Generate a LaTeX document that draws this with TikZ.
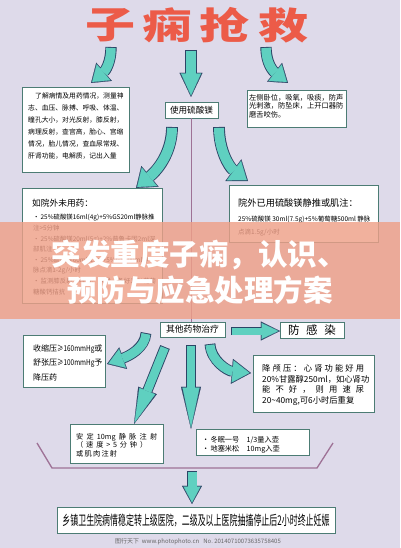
\documentclass[tikz,border=0pt]{standalone}
\usepackage{fontspec}
\setmainfont{Noto Sans CJK SC}
\usetikzlibrary{arrows.meta}
\definecolor{bg}{HTML}{DEDAEA}
\definecolor{teal1}{HTML}{5FD0C0}
\definecolor{arrline}{HTML}{2C4566}
\definecolor{boxc}{HTML}{4C7C74}
\definecolor{titlered}{HTML}{EC5B48}
\definecolor{mauve}{HTML}{9E7296}
\definecolor{band}{HTML}{EFA088}
\newcommand\fs[2]{\fontsize{#1pt}{#2pt}\selectfont}
\newcommand\ttl[1]{\scalebox{1}[0.74]{#1}}
\newcommand\cond[1]{\scalebox{0.8}[1]{#1}}
\makeatletter
\def\spr@a#1{\ifx#1\relax\unskip\else#1\hfill\expandafter\spr@a\fi}
\newcommand\spreadto[2]{\makebox[#1][l]{\spr@a#2\relax}}
\makeatother
\newcommand\tarr[4]{%
  \pgfmathsetmacro\tarrw{#1+1.8}\pgfmathsetmacro\tarrl{#2+2.2}\pgfmathsetmacro\tarrh{#3+3}%
  \draw[arrline, line width=\tarrw pt, -{Triangle[length=\tarrl pt, width=\tarrh pt, line width=0.2pt]}] #4;
  \draw[teal1, line width=#1pt, -{Triangle[length=#2pt, width=#3pt, line width=0.2pt]}, shorten >=1.5pt, shorten <=0.9pt] #4;}
\begin{document}
\begin{tikzpicture}[x=1pt,y=-1pt,
  box/.style={draw=boxc, fill=white, line width=0.8pt, inner sep=0pt, rectangle},
  txt/.style={inner sep=0pt, align=left, anchor=north west},
  title/.style={text=titlered, font=\fs{50}{50}\bfseries, inner sep=0pt},
  ovl/.style={text=white, font=\fs{29.5}{29.5}\bfseries, inner sep=0pt},
  link/.style={draw=mauve, line width=1.2pt}]
\fill[bg] (0,0) rectangle (400,548);
\useasboundingbox (0,0) rectangle (400,548);
% title
\node[title] (t1) at (110,25) {\ttl{子}};
\node[title] (t2) at (167,25) {\ttl{痫}};
\node[title] (t3) at (224,25) {\ttl{抢}};
\node[title] (t4) at (283,25) {\ttl{救}};
% arrow end points
\coordinate (a1s) at (111,47);  \coordinate (a1e) at (91,83);
\coordinate (a2s) at (191,50);  \coordinate (a2e) at (191,97);
\coordinate (a3s) at (266,47);  \coordinate (a3e) at (288,83);
\coordinate (a4s) at (172,127); \coordinate (a4e) at (136,188);
\coordinate (a5s) at (219,127); \coordinate (a5e) at (248,181);
\coordinate (a6s) at (146,333); \coordinate (a6e) at (107,364);
\coordinate (a7s) at (165,347); \coordinate (a7e) at (134,424);
\coordinate (a8s) at (191,345); \coordinate (a8e) at (191,429);
\coordinate (a9s) at (210,344); \coordinate (a9e) at (251,373);
\coordinate (a10s) at (231,331); \coordinate (a10e) at (280,331);
\coordinate (a11s) at (192,471); \coordinate (a11e) at (192,504);
% boxes
\node[box, minimum width=107pt, minimum height=85pt] (b1) at (75.5,129.5) {};
\node[txt, font=\fs{6.8}{11.9}] (b1t) at (28,93) {\hspace*{7pt}了解病情及用药情况，测量神\\志、血压、脉搏、呼吸、体温、\\瞳孔大小，对光反射，膝反射，\\病理反射，查宫高，胎心、宫缩\\情况，胎儿情况，查血尿常规、\\肝肾功能，电解质，记出入量};
\node[box, minimum width=53pt, minimum height=16pt, font=\fs{8.6}{8.6}] (b2) at (191.5,110) {使用硫酸镁};
\node[box, minimum width=99pt, minimum height=37pt] (b3) at (296.5,108.5) {};
\node[txt, font=\fs{7.25}{8.6}] (b3t) at (249,93.8) {左侧卧位，吸氧，吸痰，防声\\光刺激，防坠床，上开口器防\\磨舌咬伤。};
\node[box, minimum width=140pt, minimum height=115pt] (b4) at (92,245.5) {};
\node[txt, font=\fs{8.7}{8.7}] (b4h) at (32,199) {如院外未用药：};
\node[txt, font=\fs{6.4}{10.6}] (b4t) at (33,214.2) {·\,25\%硫酸镁16ml(4g)+5\%GS20ml静脉推\\注>5分钟\\·\,25\%硫酸镁20ml(5g)+2\%普鲁卡因2ml深\\部肌注\\·\,25\%硫酸镁60ml(15g)+5\%GS500ml静\\脉点滴1-2g/小时\\·\,监测膝反射、呼吸、尿量，备好10\%葡萄\\糖酸钙拮抗};
\node[box, minimum width=149pt, minimum height=57pt] (b5) at (303.5,213.5) {};
\node[txt, font=\fs{9.2}{9.2}] (b5h) at (238,198.8) {院外已用硫酸镁静推或肌注：};
\node[txt, font=\fs{6.5}{13}] (b5t) at (238,216) {25\%硫酸镁 30ml(7.5g)+5\%葡萄糖500ml 静脉\\点滴1.5g/小时};
\node[box, minimum width=65pt, minimum height=15pt, font=\fs{8.8}{8.8}] (b6) at (192.5,329.5) {其他药物治疗};
\node[box, minimum width=64pt, minimum height=16pt, font=\fs{11.5}{11.5}] (b7) at (312,330) {\spreadto{48pt}{防感染}};
\node[box, minimum width=82pt, minimum height=52pt] (b8) at (64,361) {};
\node[txt, font=\fs{8}{14.5}] (b8t) at (33,344.4) {收缩压\cond{≥160mmHg}或\\舒张压\cond{≥100mmHg}予\\降压药};
\node[box, minimum width=121pt, minimum height=57pt] (b9) at (313.5,383.5) {};
\node[txt, font=\fs{8.3}{10.7}] (b9t) at (262,364.3) {\spreadto{102pt}{降颅压：心肾功能好用}\\20\%甘露醇250ml，如心肾功\\\spreadto{102pt}{能不好，则用速尿}\\20\textasciitilde40mg,可6小时后重复};
\node[box, minimum width=93pt, minimum height=39pt] (b10) at (116.5,443.5) {};
\node[txt, font=\fs{7.2}{8.5}] (b10t) at (76,432.8) {\spreadto{81pt}{安定{10mg}静脉注射}\\\spreadto{71pt}{（速度>5分钟）}\\\spreadto{41pt}{或肌肉注射}};
\node[box, minimum width=113pt, minimum height=26pt] (b11) at (252.5,442) {};
\node[txt, font=\fs{7.2}{9}] (b11t) at (202,435.8) {·\,冬眠一号\quad 1/3量入壶\\·\,地塞米松\quad 10mg入壶};
\node[box, minimum width=278pt, minimum height=26pt, font=\fs{13.5}{13.5}] (b12) at (196,520) {\scalebox{0.59}[1]{乡镇卫生院病情稳定转上级医院，二级及以上医院抽搐停止后2小时终止妊娠}};
% links
\draw[link] (b2.south) -- (b2.south |- b6.north);
\coordinate (k1) at (37,443); \coordinate (k2) at (52,468);
\coordinate (k3) at (317,468); \coordinate (k4) at (333,443);
\draw[link, line width=1.3pt] (k1) -- (k2) -- (k3) -- (k4);
% arrows
\tarr{9.5}{15}{21}{(a1s) .. controls (111,63) and (105,71) .. (a1e)}
\tarr{10}{22}{20}{(a2s) -- (a2e)}
\tarr{9.5}{15}{21}{(a3s) .. controls (266,63) and (273,71) .. (a3e)}
\tarr{10}{16}{24}{(a4s) .. controls (172,150) and (160,168) .. (a4e)}
\tarr{10}{16}{24}{(a5s) .. controls (219,150) and (229,167) .. (a5e)}
\tarr{9}{15}{20}{(a6s) .. controls (145,348) and (129,356) .. (a6e)}
\tarr{8.5}{34}{17}{(a7s) -- (a7e)}
\tarr{8.5}{40}{17}{(a8s) -- (a8e)}
\tarr{9}{17}{22}{(a9s) .. controls (211,361) and (228,371) .. (a9e)}
\tarr{7}{17}{16}{(a10s) -- (a10e)}
\tarr{9}{16}{17}{(a11s) -- (a11e)}
% overlay band
\fill[band, opacity=0.82] (0,222) rectangle (400,319);
\node[ovl] (o1) at (199,255) {突发重度子痫，认识、};
\node[ovl] (o2) at (200,290) {预防与应急处理方案};
% watermark
\node[font=\fs{6}{6}, text=black!60, anchor=west, inner sep=0pt] (wm) at (115,542) {图行天下\ \ www.photophoto.cn\ \ \ No.\ 20140710073635758405};
\end{tikzpicture}
\end{document}
